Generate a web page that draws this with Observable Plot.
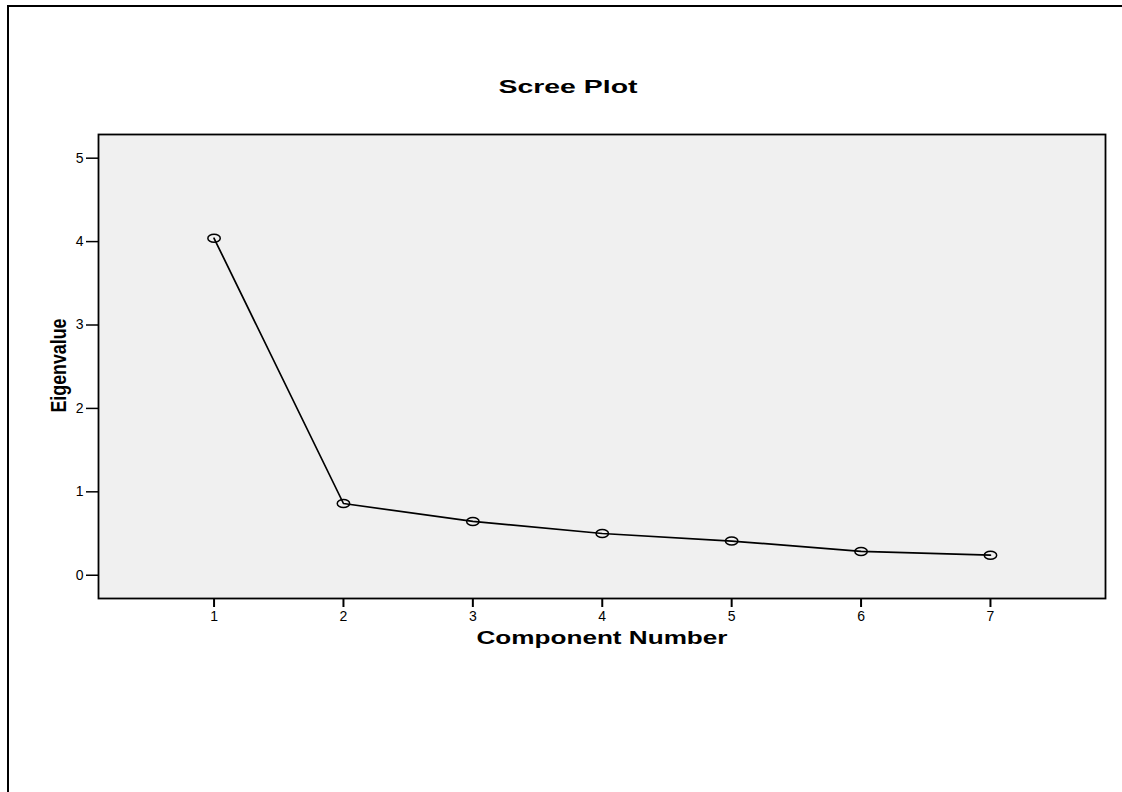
<!DOCTYPE html>
<html>
<head>
<meta charset="utf-8">
<script src="https://cdn.jsdelivr.net/npm/d3@7"></script>
<script src="https://cdn.jsdelivr.net/npm/@observablehq/plot@0.6"></script>
<style>
  html, body { margin: 0; padding: 0; background: #fff; overflow: hidden; }
  #wrap { position: relative; width: 1122px; height: 792px; }
  #border { position: absolute; left: 7px; top: 5px; width: 1200px; height: 900px;
            border-left: 2px solid #000; border-top: 2px solid #000; pointer-events: none; }
</style>
</head>
<body>
<div id="wrap"><div id="border"></div></div>
<script>
const components = [1, 2, 3, 4, 5, 6, 7];
const eigenvalues = [4.04, 0.86, 0.645, 0.50, 0.41, 0.285, 0.24];
const xTicks = [1, 2, 3, 4, 5, 6, 7];
const yTicks = [0, 1, 2, 3, 4, 5];
const titleText = "Scree Plot";
const xLabelText = "Component Number";
const yLabelText = "Eigenvalue";

const data = components.map((c, i) => ({component: c, eigenvalue: eigenvalues[i]}));

// slightly wide open marker (the original is stretched horizontally)
const ellipse = {
  draw(ctx, size) {
    const r = Math.sqrt(size / Math.PI);
    const rx = r * 1.55, ry = r, k = 0.5523;
    ctx.moveTo(rx, 0);
    ctx.bezierCurveTo(rx, ry * k, rx * k, ry, 0, ry);
    ctx.bezierCurveTo(-rx * k, ry, -rx, ry * k, -rx, 0);
    ctx.bezierCurveTo(-rx, -ry * k, -rx * k, -ry, 0, -ry);
    ctx.bezierCurveTo(rx * k, -ry, rx, -ry * k, rx, 0);
    ctx.closePath();
  }
};

const chart = Plot.plot({
  width: 1122,
  height: 792,
  marginLeft: 98,
  marginRight: 17,
  marginTop: 134,
  marginBottom: 194,
  style: {fontFamily: "Arial, 'Liberation Sans', sans-serif", fontSize: "14px", color: "#000", background: "transparent"},
  x: {domain: [0.107, 7.889], label: null},
  y: {domain: [-0.279, 5.284], label: null},
  marks: [
    Plot.frame({fill: "#f0f0f0", stroke: null}),
    Plot.line(data, {x: "component", y: "eigenvalue", stroke: "#000", strokeWidth: 1.7}),
    Plot.dot(data, {x: "component", y: "eigenvalue", symbol: ellipse, r: 4, stroke: "#000", strokeWidth: 1.5, fill: "none"}),
    Plot.axisX(xTicks, {tickSize: 9, tickPadding: 4, strokeWidth: 2, fontSize: 14, tickFormat: d3.format("d"), label: null}),
    Plot.axisY(yTicks, {tickSize: 12, tickPadding: 3, strokeWidth: 1.5, fontSize: 14, tickFormat: d3.format("d"), label: null}),
    Plot.frame({stroke: "#000", strokeWidth: 1.8}),
    Plot.text([titleText], {text: d => d, frameAnchor: "top", dx: -34, dy: -54, fontSize: 18, fontWeight: "bold"}),
    Plot.text([xLabelText], {text: d => d, frameAnchor: "bottom", dy: 45, fontSize: 19, fontWeight: "bold"}),
    Plot.text([yLabelText], {text: d => d, frameAnchor: "left", dx: -40, dy: 46, rotate: -90, textAnchor: "start", fontSize: 22, fontWeight: "bold"})
  ]
});

const s = d3.select(chart);
const lengths = {[titleText]: 139, [xLabelText]: 251, [yLabelText]: 94};
s.selectAll("text").each(function() {
  const t = this.textContent.trim();
  if (lengths[t] !== undefined) {
    d3.select(this).attr("textLength", lengths[t]).attr("lengthAdjust", "spacingAndGlyphs");
  }
});

chart.style.position = "absolute";
chart.style.left = "0px";
chart.style.top = "0px";
document.getElementById("wrap").appendChild(chart);
</script>
</body>
</html>
